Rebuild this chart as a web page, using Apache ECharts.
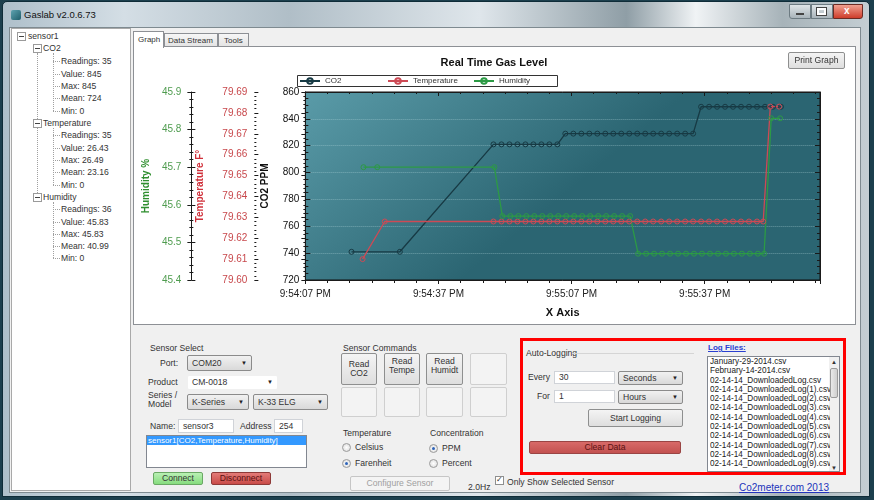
<!DOCTYPE html>
<html>
<head>
<meta charset="utf-8">
<title>Gaslab v2.0.6.73</title>
<script src="https://cdn.jsdelivr.net/npm/echarts@6/dist/echarts.min.js"></script>
<style>
  body { margin: 0; width: 874px; height: 500px; overflow: hidden; position: relative;
         background: #1c3f4d; font-family: "Liberation Sans", Arial, sans-serif; font-size: 9px; color: #222; }
  .a { position: absolute; box-sizing: border-box; }
  .t { position: absolute; white-space: nowrap; font-size: 8.6px; line-height: 10px; color: #333; }
  .btn { position: absolute; box-sizing: border-box; border: 1px solid #8e8f8f; border-radius: 2px;
         background: linear-gradient(#f4f4f4, #dedede); font-size: 8.6px; text-align: center; color: #333; }
  .combo { position: absolute; box-sizing: border-box; border: 1px solid #8b8b8b; border-radius: 2px;
           background: linear-gradient(#f1f1f1, #d9d9d9); font-size: 8.6px; padding-left: 4px; color: #333; white-space: nowrap; }
  .combo:after { content: "\25BC"; position: absolute; right: 4px; top: 0; font-size: 6px; color: #222; }
  .tb { position: absolute; box-sizing: border-box; background: #fff; border: 1px solid #d0d3d8;
        font-size: 8.6px; padding-left: 4px; color: #333; white-space: nowrap; }
  .box { position: absolute; width: 9px; height: 9px; box-sizing: border-box; border: 1px solid #9a9a9a; background: #fff; }
  .box:after { content: ""; position: absolute; left: 1px; top: 3px; width: 5px; height: 1px; background: #444; }
  .vl { position: absolute; border-left: 1px dotted #a0a0a0; }
  .hl { position: absolute; border-top: 1px dotted #a0a0a0; width: 7px; }
  .radio { position: absolute; width: 9px; height: 9px; border-radius: 50%; box-sizing: border-box;
           border: 1px solid #9b9b9b; background: radial-gradient(#fff, #d8d8d8); }
  .radio.on:after { content: ""; position: absolute; left: 2px; top: 2px; width: 3px; height: 3px; border-radius: 50%; background: #2e63b8; }
  .empty { position: absolute; box-sizing: border-box; border: 1px solid #cfcfcf; border-radius: 2px; background: #f3f3f3; }
  .tab { font-size: 8px; }
</style>
</head>
<body>
<!-- window frame -->
<div class="a" style="left:2px;top:1px;width:868px;height:496px;border:1px solid #0f2c38;border-radius:5px 5px 0 0;
     background:linear-gradient(90deg,#aebfca 0%,#d4dee5 14%,#b0bec7 33%,#dfe6eb 55%,#8f9ea6 72%,#f0f3f5 80%,#a7b3b9 90%,#c4ced3 100%);"></div>
<div class="a" style="left:11px;top:10px;width:10px;height:10px;border-radius:2px;background:linear-gradient(135deg,#5fa3b0,#1f5e6b);"></div>
<div class="t" style="left:24px;top:10px;font-size:9.5px;color:#111;">Gaslab v2.0.6.73</div>
<div class="a" style="left:789px;top:4px;width:22px;height:15px;border:1px solid #6d7b82;border-radius:0 0 0 3px;background:linear-gradient(#dfe5e8,#a9b4ba);"></div>
<div class="a" style="left:796px;top:13px;width:8px;height:2px;background:#fff;border:1px solid #444;"></div>
<div class="a" style="left:811px;top:4px;width:22px;height:15px;border:1px solid #6d7b82;background:linear-gradient(#dfe5e8,#a9b4ba);"></div>
<div class="a" style="left:817px;top:8px;width:9px;height:7px;border:2px solid #fff;outline:1px solid #444;"></div>
<div class="a" style="left:833px;top:4px;width:30px;height:15px;border:1px solid #6b2b24;border-radius:0 0 3px 0;background:linear-gradient(#f0a090,#cf3d2b);"></div>
<div class="t" style="left:844px;top:6px;font-size:10px;font-weight:bold;color:#fff;">x</div>

<!-- client area -->
<div class="a" style="left:9px;top:27px;width:852px;height:466px;background:#f0f0f0;border:1px solid #7e8a90;"></div>

<!-- tree view -->
<div class="a" style="left:11px;top:28px;width:120px;height:463px;background:#fff;border:1px solid #a9a9a9;"></div>
<div class="vl" style="left:37px;top:53px;height:144px;"></div>
<div class="vl" style="left:53px;top:53px;height:58px;"></div>
<div class="vl" style="left:53px;top:128px;height:57px;"></div>
<div class="vl" style="left:53px;top:202px;height:56px;"></div>
<div class="hl" style="left:53px;top:61px;"></div><div class="hl" style="left:53px;top:74px;"></div>
<div class="hl" style="left:53px;top:86px;"></div><div class="hl" style="left:53px;top:98px;"></div>
<div class="hl" style="left:53px;top:111px;"></div>
<div class="hl" style="left:53px;top:135px;"></div><div class="hl" style="left:53px;top:148px;"></div>
<div class="hl" style="left:53px;top:160px;"></div><div class="hl" style="left:53px;top:172px;"></div>
<div class="hl" style="left:53px;top:185px;"></div>
<div class="hl" style="left:53px;top:209px;"></div><div class="hl" style="left:53px;top:222px;"></div>
<div class="hl" style="left:53px;top:234px;"></div><div class="hl" style="left:53px;top:246px;"></div>
<div class="hl" style="left:53px;top:258px;"></div>
<div class="box" style="left:17px;top:32px;"></div><div class="t" style="left:28px;top:31px;">sensor1</div>
<div class="box" style="left:33px;top:44px;"></div><div class="t" style="left:43px;top:43px;">CO2</div>
<div class="t" style="left:61px;top:56px;">Readings: 35</div>
<div class="t" style="left:61px;top:69px;">Value: 845</div>
<div class="t" style="left:61px;top:81px;">Max: 845</div>
<div class="t" style="left:61px;top:93px;">Mean: 724</div>
<div class="t" style="left:61px;top:106px;">Min: 0</div>
<div class="box" style="left:33px;top:119px;"></div><div class="t" style="left:43px;top:118px;">Temperature</div>
<div class="t" style="left:61px;top:130px;">Readings: 35</div>
<div class="t" style="left:61px;top:143px;">Value: 26.43</div>
<div class="t" style="left:61px;top:155px;">Max: 26.49</div>
<div class="t" style="left:61px;top:167px;">Mean: 23.16</div>
<div class="t" style="left:61px;top:180px;">Min: 0</div>
<div class="box" style="left:33px;top:193px;"></div><div class="t" style="left:43px;top:192px;">Humidity</div>
<div class="t" style="left:61px;top:204px;">Readings: 36</div>
<div class="t" style="left:61px;top:217px;">Value: 45.83</div>
<div class="t" style="left:61px;top:229px;">Max: 45.83</div>
<div class="t" style="left:61px;top:241px;">Mean: 40.99</div>
<div class="t" style="left:61px;top:253px;">Min: 0</div>

<!-- tabs -->
<div class="a" style="left:164px;top:33px;width:54px;height:14px;background:linear-gradient(#f6f6f6,#e3e3e3);border:1px solid #8d9095;border-bottom:none;"></div>
<div class="t tab" style="left:168px;top:36px;">Data Stream</div>
<div class="a" style="left:218px;top:33px;width:31px;height:14px;background:linear-gradient(#f6f6f6,#e3e3e3);border:1px solid #8d9095;border-bottom:none;"></div>
<div class="t tab" style="left:224px;top:36px;">Tools</div>
<div class="a" style="left:133px;top:46px;width:723px;height:279px;background:#fff;border:1px solid #8d9095;"></div>
<div class="a" style="left:133px;top:31px;width:31px;height:17px;background:#fff;border:1px solid #8d9095;border-bottom:none;"></div>
<div class="t tab" style="left:138px;top:35px;">Graph</div>

<!-- chart -->
<div id="chart" class="a" style="left:133px;top:46px;width:722px;height:278px;"></div>
<div class="btn" style="left:788px;top:52px;width:57px;height:17px;line-height:15px;z-index:5;">Print Graph</div>

<!-- sensor select -->
<div class="t" style="left:150px;top:343px;">Sensor Select</div>
<div class="t" style="left:160px;top:358px;">Port:</div>
<div class="combo" style="left:187px;top:355px;width:65px;height:16px;line-height:14px;">COM20</div>
<div class="t" style="left:148px;top:377px;">Product</div>
<div class="combo" style="left:187px;top:375px;width:91px;height:15px;line-height:13px;border-color:#f0f0f0;background:#fff;">CM-0018</div>
<div class="t" style="left:148px;top:391px;line-height:9px;">Series /<br>Model</div>
<div class="combo" style="left:187px;top:394px;width:62px;height:16px;line-height:14px;">K-Series</div>
<div class="combo" style="left:253px;top:394px;width:75px;height:16px;line-height:14px;">K-33 ELG</div>
<div class="t" style="left:150px;top:421px;">Name:</div>
<div class="tb" style="left:178px;top:419px;width:56px;height:14px;line-height:12px;">sensor3</div>
<div class="t" style="left:240px;top:421px;">Address</div>
<div class="tb" style="left:274px;top:419px;width:29px;height:14px;line-height:12px;">254</div>
<div class="a" style="left:146px;top:435px;width:161px;height:33px;background:#fff;border:1px solid #828790;"></div>
<div class="a" style="left:147px;top:436px;width:159px;height:9px;background:#3399ff;"></div>
<div class="t" style="left:148px;top:436px;font-size:8px;line-height:9px;color:#fff;">sensor1[CO2,Temperature,Humidity]</div>
<div class="btn" style="left:153px;top:472px;width:50px;height:13px;line-height:11px;background:linear-gradient(#b9f0b4,#86dc7e);border-color:#6aa864;">Connect</div>
<div class="btn" style="left:211px;top:472px;width:60px;height:13px;line-height:11px;background:linear-gradient(#e37b78,#c94b48);border-color:#8e3a38;color:#5a1010;">Disconnect</div>

<!-- sensor commands -->
<div class="t" style="left:343px;top:343px;">Sensor Commands</div>
<div class="btn" style="left:341px;top:353px;width:36px;height:32px;padding-top:6px;line-height:9px;">Read<br>CO2</div>
<div class="btn" style="left:384px;top:353px;width:36px;height:32px;padding-top:3px;line-height:9px;">Read<br>Tempe</div>
<div class="btn" style="left:426px;top:353px;width:37px;height:32px;padding-top:3px;line-height:9px;">Read<br>Humidt</div>
<div class="empty" style="left:470px;top:353px;width:37px;height:32px;"></div>
<div class="empty" style="left:341px;top:387px;width:36px;height:30px;"></div>
<div class="empty" style="left:384px;top:387px;width:36px;height:30px;"></div>
<div class="empty" style="left:426px;top:387px;width:37px;height:30px;"></div>
<div class="empty" style="left:470px;top:387px;width:37px;height:30px;"></div>
<div class="t" style="left:343px;top:428px;">Temperature</div>
<div class="radio" style="left:342px;top:443px;"></div><div class="t" style="left:355px;top:442px;">Celsius</div>
<div class="radio on" style="left:342px;top:459px;"></div><div class="t" style="left:355px;top:458px;">Farenheit</div>
<div class="t" style="left:430px;top:428px;">Concentration</div>
<div class="radio on" style="left:429px;top:444px;"></div><div class="t" style="left:442px;top:443px;">PPM</div>
<div class="radio" style="left:429px;top:459px;"></div><div class="t" style="left:442px;top:458px;">Percent</div>
<div class="btn" style="left:350px;top:476px;width:100px;height:15px;line-height:13px;color:#a0a0a0;border-color:#c6c6c6;background:#f4f4f4;">Configure Sensor</div>
<div class="t" style="left:468px;top:482px;">2.0Hz</div>
<div class="a" style="left:495px;top:476px;width:9px;height:9px;border:1px solid #8e8f8f;background:#fff;"></div>
<div class="t" style="left:496px;top:475px;font-size:8px;">&#10003;</div>
<div class="t" style="left:507px;top:477px;">Only Show Selected Sensor</div>

<!-- auto logging -->
<div class="t" style="left:526px;top:348px;">Auto-Logging</div>
<div class="a" style="left:572px;top:353px;width:122px;height:1px;background:#d5d5d5;"></div>
<div class="t" style="left:528px;top:372px;">Every</div>
<div class="tb" style="left:554px;top:371px;width:61px;height:13px;line-height:11px;">30</div>
<div class="combo" style="left:618px;top:371px;width:65px;height:14px;line-height:12px;">Seconds</div>
<div class="t" style="left:537px;top:391px;">For</div>
<div class="tb" style="left:554px;top:390px;width:61px;height:13px;line-height:11px;">1</div>
<div class="combo" style="left:618px;top:390px;width:65px;height:14px;line-height:12px;">Hours</div>
<div class="btn" style="left:588px;top:409px;width:95px;height:18px;line-height:16px;">Start Logging</div>
<div class="btn" style="left:529px;top:441px;width:152px;height:13px;line-height:11px;background:linear-gradient(#d86a68,#c35250);border-color:#9a4544;color:#5a1212;">Clear Data</div>
<div class="t" style="left:708px;top:343px;color:#2a3fd0;text-decoration:underline;font-weight:bold;font-size:8px;">Log Files:</div>
<div class="a" style="left:707px;top:356px;width:133px;height:116px;background:#fff;border:1px solid #828790;"></div>
<div class="a" style="left:829px;top:357px;width:10px;height:114px;background:#f0f0f0;"></div>
<div class="a" style="left:830px;top:368px;width:8px;height:30px;background:linear-gradient(90deg,#e9e9e9,#cfcfcf);border:1px solid #9a9a9a;border-radius:2px;"></div>
<div class="t" style="left:831px;top:357px;font-size:6px;">&#9650;</div>
<div class="t" style="left:831px;top:463px;font-size:6px;">&#9660;</div>
<div id="logs" class="a" style="left:710px;top:357px;width:120px;font-size:8.2px;line-height:9.3px;color:#222;white-space:nowrap;overflow:hidden;height:114px;"></div>
<div class="a" style="left:520px;top:338px;width:326px;height:137px;border:3px solid #ff0000;"></div>
<div class="t" style="left:739px;top:483px;color:#2233bb;text-decoration:underline;font-size:10px;">Co2meter.com 2013</div>

<script>
// log file list shown in the Auto-Logging box
const logFiles = ['January-29-2014.csv', 'February-14-2014.csv', '02-14-14_DownloadedLog.csv',
  '02-14-14_DownloadedLog(1).csv', '02-14-14_DownloadedLog(2).csv', '02-14-14_DownloadedLog(3).csv',
  '02-14-14_DownloadedLog(4).csv', '02-14-14_DownloadedLog(5).csv', '02-14-14_DownloadedLog(6).csv',
  '02-14-14_DownloadedLog(7).csv', '02-14-14_DownloadedLog(8).csv', '02-14-14_DownloadedLog(9).csv'];
document.getElementById('logs').innerHTML = logFiles.map(f => '<div>' + f + '</div>').join('');

// x values are seconds after 9:54:07 PM
const xTickLabels = ['9:54:07 PM', '9:54:37 PM', '9:55:07 PM', '9:55:37 PM'];
const seriesNames = ['CO2', 'Temperature', 'Humidity'];

const co2Times = [10.4, 21.3, 42.4, 44.2, 46, 47.8, 49.6, 51.4, 53.2, 55, 56.8,
  58.6, 60.4, 62.2, 64, 65.8, 67.6, 69.4, 71.2, 73, 74.8, 76.6, 78.4, 80.2, 82, 83.8, 85.6, 87.4,
  89.2, 91, 92.8, 94.6, 96.4, 98.2, 100, 101.8, 103.6, 105.4, 107.2];
const co2Values = [741, 741, 821, 821, 821, 821, 821, 821, 821, 821, 821,
  829, 829, 829, 829, 829, 829, 829, 829, 829, 829, 829, 829, 829, 829, 829, 829, 829,
  849, 849, 849, 849, 849, 849, 849, 849, 849, 849, 849];

const tempTimes = [12.9, 17.9, 42.4, 44.2, 46, 47.8, 49.6, 51.4, 53.2, 55, 56.8, 58.6, 60.4,
  62.2, 64, 65.8, 67.6, 69.4, 71.2, 73, 74.8, 76.6, 78.4, 80.2, 82, 83.8, 85.6, 87.4, 89.2,
  91, 92.8, 94.6, 96.4, 98.2, 100, 101.8, 103.2, 104.8, 106.8];
const tempValues = [79.610, 79.628, 79.628, 79.628, 79.628, 79.628, 79.628, 79.628, 79.628,
  79.628, 79.628, 79.628, 79.628, 79.628, 79.628, 79.628, 79.628, 79.628, 79.628, 79.628,
  79.628, 79.628, 79.628, 79.628, 79.628, 79.628, 79.628, 79.628, 79.628, 79.628, 79.628,
  79.628, 79.628, 79.628, 79.628, 79.628, 79.628, 79.683, 79.683];

const humTimes = [13.1, 16.2, 42.6, 44.4, 46.2, 48, 49.8, 51.6, 53.4, 55.2, 57, 58.8, 60.6,
  62.4, 64.2, 66, 67.8, 69.6, 71.4, 73.2, 75, 76.8, 78.6, 80.4, 82.2, 84, 85.8, 87.6, 89.4,
  91.2, 93, 94.8, 96.6, 98.4, 100.2, 102, 103.4, 105, 107];
const humValues = [45.70, 45.70, 45.70, 45.57, 45.57, 45.57, 45.57, 45.57, 45.57, 45.57,
  45.57, 45.57, 45.57, 45.57, 45.57, 45.57, 45.57, 45.57, 45.57, 45.57, 45.47, 45.47, 45.47,
  45.47, 45.47, 45.47, 45.47, 45.47, 45.47, 45.47, 45.47, 45.47, 45.47, 45.47, 45.47, 45.47,
  45.47, 45.83, 45.83];

function pairs(xs, ys) {
  return xs.map((x, i) => [x, ys[i]]);
}

const font = 'Liberation Sans';
const dark = '#1a1a1a';
const co2Color = '#173a44';
const tempColor = '#cd4a55';
const humColor = '#2c9a45';

function lineSeries(name, color, yIndex, data) {
  return {
    name: name, type: 'line', yAxisIndex: yIndex, data: data,
    symbol: 'circle', symbolSize: 5,
    lineStyle: { color: color, width: 1.3 },
    itemStyle: { color: 'rgba(0,0,0,0)', borderColor: color, borderWidth: 1 },
    emphasis: { disabled: true }
  };
}

// one legend per entry so they sit in fixed columns like the original
function legendAt(name, left) {
  return {
    data: [name], left: left, top: 31, itemWidth: 20, itemHeight: 7, padding: 0, itemGap: 0,
    textStyle: { fontSize: 8, color: '#333', fontFamily: font }
  };
}

// extra tick-only axis so the side axes get ticks crossing both ways
function innerTicks(min, max, interval, offset) {
  return {
    type: 'value', min: min, max: max, interval: interval, position: 'left', offset: offset,
    axisLine: { show: false }, axisLabel: { show: false }, splitLine: { show: false },
    axisTick: { show: true, inside: true, length: 4, lineStyle: { color: dark } },
    minorTick: { show: true, splitNumber: 5, length: 2, lineStyle: { color: dark } }
  };
}

const chart = echarts.init(document.getElementById('chart'));
chart.setOption({
  animation: false,
  textStyle: { fontFamily: font },
  title: {
    text: 'Real Time Gas Level', left: 'center', top: 6,
    textStyle: { fontSize: 11, fontWeight: 'bold', color: '#111', fontFamily: font }
  },
  graphic: [{
    type: 'rect', left: 164, top: 29, z: 0,
    shape: { width: 260, height: 11 },
    style: { fill: '#fff', stroke: '#333', lineWidth: 1 }
  }],
  legend: [
    legendAt(seriesNames[0], 166),
    legendAt(seriesNames[1], 254),
    legendAt(seriesNames[2], 340)
  ],
  grid: {
    left: 164, top: 46, width: 523, height: 188, show: true,
    backgroundColor: new echarts.graphic.LinearGradient(0, 0, 0.3, 1, [
      { offset: 0, color: '#5a9ba8' }, { offset: 1, color: '#2b6572' }]),
    borderColor: '#111', borderWidth: 1
  },
  xAxis: [{
    type: 'value', min: 0, max: 116, interval: 30, position: 'bottom',
    axisLine: { lineStyle: { color: dark } },
    axisTick: { length: 4, lineStyle: { color: dark } },
    minorTick: { show: true, splitNumber: 6, length: 3, lineStyle: { color: dark } },
    splitLine: { show: false },
    axisLabel: { margin: 9, fontSize: 10, color: '#222',
      formatter: v => (v % 30 === 0 ? xTickLabels[v / 30] : '') },
    name: 'X Axis', nameLocation: 'middle', nameGap: 27,
    nameTextStyle: { fontSize: 11, fontWeight: 'bold', color: '#111' }
  }, {
    type: 'value', min: 0, max: 116, interval: 30, position: 'top',
    axisLine: { lineStyle: { color: dark } },
    axisTick: { inside: true, length: 4, lineStyle: { color: dark } },
    minorTick: { show: true, splitNumber: 6, length: 2, lineStyle: { color: dark } },
    splitLine: { show: false }, axisLabel: { show: false }
  }],
  yAxis: [{
    type: 'value', min: 720, max: 860, interval: 20, position: 'left',
    axisLine: { show: true, lineStyle: { color: dark } },
    axisTick: { show: true, inside: true, length: 5, lineStyle: { color: dark } },
    minorTick: { show: true, splitNumber: 4, length: 3, lineStyle: { color: dark } },
    splitLine: { show: true, lineStyle: { type: 'dotted', color: 'rgba(185,220,225,0.45)' } },
    axisLabel: { fontSize: 10, color: '#111', margin: 6 },
    name: 'CO2 PPM', nameLocation: 'middle', nameGap: 35,
    nameTextStyle: { fontSize: 10, fontWeight: 'bold', color: '#111' }
  }, {
    type: 'value', min: 79.6, max: 79.69, interval: 0.01, position: 'left', offset: 51,
    axisLine: { show: true, lineStyle: { color: dark } },
    axisTick: { show: true, length: 4, lineStyle: { color: dark } },
    minorTick: { show: true, splitNumber: 5, length: 2, lineStyle: { color: dark } },
    splitLine: { show: false },
    axisLabel: { fontSize: 10, color: '#c8484c', margin: 7, formatter: v => v.toFixed(2) },
    name: 'Temperature F°', nameLocation: 'middle', nameGap: 49,
    nameTextStyle: { fontSize: 10, fontWeight: 'bold', color: '#d0303a' }
  }, {
    type: 'value', min: 45.4, max: 45.9, interval: 0.1, position: 'left', offset: 114,
    axisLine: { show: true, lineStyle: { color: dark } },
    axisTick: { show: true, length: 4, lineStyle: { color: dark } },
    minorTick: { show: true, splitNumber: 5, length: 2, lineStyle: { color: dark } },
    splitLine: { show: false },
    axisLabel: { fontSize: 10, color: '#4f9c4f', margin: 10, formatter: v => v.toFixed(1) },
    name: 'Humidity %', nameLocation: 'middle', nameGap: 38,
    nameTextStyle: { fontSize: 10, fontWeight: 'bold', color: '#2f8f2f' }
  }, {
    type: 'value', min: 720, max: 860, interval: 20, position: 'right',
    axisLine: { show: true, lineStyle: { color: dark } },
    axisTick: { show: true, inside: true, length: 5, lineStyle: { color: dark } },
    minorTick: { show: true, splitNumber: 4, length: 3, lineStyle: { color: dark } },
    splitLine: { show: false }, axisLabel: { show: false }
  },
    innerTicks(79.6, 79.69, 0.01, 51),
    innerTicks(45.4, 45.9, 0.1, 114)
  ],
  series: [
    lineSeries(seriesNames[0], co2Color, 0, pairs(co2Times, co2Values)),
    lineSeries(seriesNames[1], tempColor, 1, pairs(tempTimes, tempValues)),
    lineSeries(seriesNames[2], humColor, 2, pairs(humTimes, humValues))
  ]
});
</script>
</body>
</html>
